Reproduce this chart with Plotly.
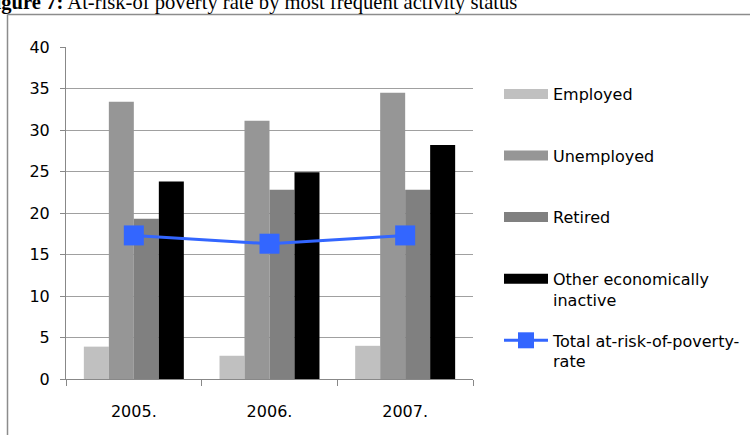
import plotly.graph_objects as go

years = ["2005.", "2006.", "2007."]
employed = [3.9, 2.8, 4.0]
unemployed = [33.4, 31.1, 34.5]
retired = [19.3, 22.8, 22.8]
other_inactive = [23.8, 24.9, 28.2]
total_rate = [17.3, 16.3, 17.3]

names = ["Employed", "Unemployed", "Retired", "Other economically<br>inactive"]
colors = ["#C0C0C0", "#969696", "#808080", "#000000"]
series = [employed, unemployed, retired, other_inactive]

FONT = "DejaVu Sans"
fig = go.Figure()

for nm, col, vals in zip(names, colors, series):
    fig.add_trace(go.Bar(x=years, y=vals, name=nm, marker=dict(color=col, line=dict(width=0)),
                         showlegend=False, legendgroup=nm))
    # legend proxy (wide swatch)
    label = nm if "<br>" in nm else nm + "<br>\u00a0"
    fig.add_trace(go.Scatter(x=[None], y=[None], mode="lines", name=label,
                             line=dict(color=col, width=13), legendgroup=nm, showlegend=True))

fig.add_trace(go.Scatter(x=years, y=total_rate, mode="lines+markers",
                         name="Total at-risk-of-poverty-<br>rate", legendgroup="total",
                         line=dict(color="#3366FF", width=3),
                         marker=dict(symbol="square", size=20, color="#3366FF")))

W, H = 750, 435
ml, mr, mt, mb = 66, 277, 47, 56
pw, ph = W - ml - mr, H - mt - mb

def px2x(p):
    return (p - ml) / pw

def px2y(p):
    return (H - mb - p) / ph

# outer frame (left and top edges visible in the crop)
fig.add_shape(type="line", xref="paper", yref="paper",
              x0=px2x(7.5), x1=px2x(7.5), y0=px2y(440), y1=px2y(14.5),
              line=dict(color="#8C8C8C", width=1.5), layer="below")
fig.add_shape(type="line", xref="paper", yref="paper",
              x0=px2x(7.5), x1=px2x(755), y0=px2y(14.5), y1=px2y(14.5),
              line=dict(color="#8C8C8C", width=1.5), layer="below")

fig.add_annotation(xref="paper", yref="paper", x=px2x(-19), y=px2y(2), xanchor="left", yanchor="middle",
                   text="<b>Figure 7:</b> At-risk-of poverty rate by most frequent activity status",
                   showarrow=False, font=dict(family="Liberation Serif", size=20.6, color="#000"))

fig.update_layout(
    width=W, height=H,
    margin=dict(l=ml, r=mr, t=mt, b=mb, autoexpand=False),
    paper_bgcolor="white", plot_bgcolor="white",
    barmode="group", bargap=0.263, bargroupgap=0,
    font=dict(family=FONT, size=16, color="#000"),
    legend=dict(x=px2x(499), y=px2y(77), xanchor="left", yanchor="top",
                traceorder="grouped", tracegroupgap=17, valign="top",
                itemwidth=44, font=dict(family=FONT, size=16, color="#000"),
                bgcolor="rgba(0,0,0,0)"),
    xaxis=dict(showline=True, linecolor="#888888", linewidth=1, ticks="outside", tickson="boundaries",
               ticklen=6, tickcolor="#888888", showgrid=False, ticklabelstandoff=18,
               tickfont=dict(family=FONT, size=16)),
    yaxis=dict(range=[0, 40], dtick=5, showline=True, linecolor="#888888", linewidth=1,
               ticks="outside", ticklen=5, tickcolor="#888888", gridcolor="#A0A0A0",
               zeroline=False, ticklabelstandoff=7, tickfont=dict(family=FONT, size=16)),
)

fig.write_html("out.html", config={"displayModeBar": False},
               post_script="document.body.style.margin='0';document.body.style.overflow='hidden';")
